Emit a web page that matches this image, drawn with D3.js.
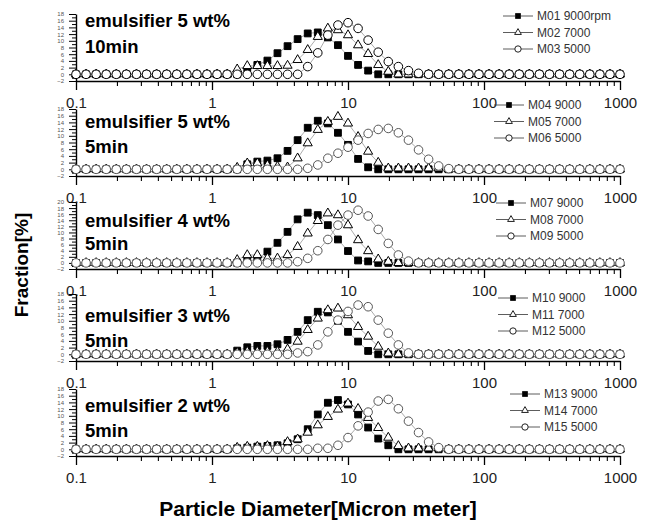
<!DOCTYPE html>
<html>
<head>
<meta charset="utf-8">
<script src="https://cdn.jsdelivr.net/npm/d3@7"></script>
<style>
  body { margin: 0; background: #fff; }
  svg { display: block; font-family: "Liberation Sans", Arial, sans-serif; }
</style>
</head>
<body>
<svg width="651" height="523"></svg>
<script>
// particle diameter classes (micron), shared by every panel
var diameters = [
  0.1, 0.1186, 0.1406, 0.1668, 0.1978, 0.2346, 0.2783, 0.33, 0.3914, 0.4642, 0.5505,
  0.6529, 0.7743, 0.9182, 1.089, 1.292, 1.532, 1.817, 2.154, 2.555, 3.03, 3.594,
  4.262, 5.055, 5.995, 7.11, 8.434, 10, 11.86, 14.06, 16.68, 19.78, 23.46,
  27.83, 33.0, 39.14, 46.42, 55.05, 65.29, 77.43, 91.82, 108.9, 129.2, 153.2,
  181.7, 215.4, 255.5, 303.0, 359.4, 426.2, 505.5, 599.5, 711.0, 843.4, 1000
];

// fraction [%] per class, one array per sample
var m01 = [0,0,0,0,0,0,0,0,0,0,0, 0,0,0,0,0,0,1.0,2.8,4.1,6.3,8.4, 10.5,12.2,12.5,11.0,8.7,5.5,2.8,1.1,0,0,0, 0,0,0,0,0,0,0,0,0,0,0, 0,0,0,0,0,0,0,0,0,0,0];
var m02 = [0,0,0,0,0,0,0,0,0,0,0, 0,0,0,0,0,1.5,2.5,2.5,2.5,2.5,2.6, 4.3,7.3,11.2,13.7,13.2,11.7,8.7,6.1,2.8,0.8,0, 0,0,0,0,0,0,0,0,0,0,0, 0,0,0,0,0,0,0,0,0,0,0];
var m03 = [0,0,0,0,0,0,0,0,0,0,0, 0,0,0,0,0,0,0,0,0,0,0, 0,2.3,6.4,11.7,14.7,15.4,13.7,10.2,6.6,3.8,2.3, 1.1,0.3,0,0,0,0,0,0,0,0,0, 0,0,0,0,0,0,0,0,0,0,0];

var m04 = [0,0,0,0,0,0,0,0,0,0,0, 0,0,0,0,0,0,1.5,2.3,2.6,3.3,5.5, 8.7,12.4,14.5,13.7,10.9,7.3,3.1,0.6,0,0,0, 0,0,0,0,0,0,0,0,0,0,0, 0,0,0,0,0,0,0,0,0,0,0];
var m05 = [0,0,0,0,0,0,0,0,0,0,0, 0,0,0,0,0,0.5,1.8,1.8,1.2,0.8,0.6, 3.3,7.8,11.8,14.2,15.7,13.7,9.7,5.3,2.0,0.3,0.3, 0.3,0.3,0.3,0.3,0,0,0,0,0,0,0, 0,0,0,0,0,0,0,0,0,0,0];
var m06 = [0,0,0,0,0,0,0,0,0,0,0, 0,0,0,0,0,0,0,0,0,0,0, 0,0.3,1.3,3.3,4.8,6.6,8.7,10.7,11.9,12.2,10.9, 8.7,5.8,3.0,1.0,0.2,0,0,0,0,0,0, 0,0,0,0,0,0,0,0,0,0,0];

var m07 = [0,0,0,0,0,0,0,0,0,0,0, 0,0,0,0,0,0,0.5,1.2,3.7,6.6,10.2, 14.3,16.5,15.7,12.4,7.7,3.9,0.8,0.5,0,0,0, 0,0,0,0,0,0,0,0,0,0,0, 0,0,0,0,0,0,0,0,0,0,0];
var m08 = [0,0,0,0,0,0,0,0,0,0,0, 0,0,0,0,0,1.0,2.6,2.6,1.5,1.5,2.6, 5.3,9.7,13.8,16.3,15.7,12.4,7.5,3.9,1.2,0.4,0, 0,0,0,0,0,0,0,0,0,0,0, 0,0,0,0,0,0,0,0,0,0,0];
var m09 = [0,0,0,0,0,0,0,0,0,0,0, 0,0,0,0,0,0,0,0,0,0,0, 0.4,1.5,4.0,7.7,12.4,15.7,17.3,15.4,11.0,6.4,2.6, 0.6,0,0,0,0,0,0,0,0,0,0, 0,0,0,0,0,0,0,0,0,0,0];

var m10 = [0,0,0,0,0,0,0,0,0,0,0, 0,0,0,0,0,1.1,2.1,2.5,2.5,3.0,4.3, 6.7,10.2,12.7,12.5,10.0,6.7,3.8,1.0,0,0,0, 0,0,0,0,0,0,0,0,0,0,0, 0,0,0,0,0,0,0,0,0,0,0];
var m11 = [0,0,0,0,0,0,0,0,0,0,0, 0,0,0,0,0,0.5,0.8,0.8,0.8,0.8,1.5, 3.8,7.3,10.7,13.2,13.7,11.7,8.2,5.3,2.3,0.3,0, 0,0,0,0,0,0,0,0,0,0,0, 0,0,0,0,0,0,0,0,0,0,0];
var m12 = [0,0,0,0,0,0,0,0,0,0,0, 0,0,0,0,0,0,0,0,0,0,0, 0.4,0.8,2.8,6.7,10.2,12.8,14.7,14.2,10.2,6.3,2.8, 0.4,0,0,0,0,0,0,0,0,0,0, 0,0,0,0,0,0,0,0,0,0,0];

var m13 = [0,0,0,0,0,0,0,0,0,0,0, 0,0,0,0,0,0.3,0.5,0.8,1.0,1.2,1.8, 3.0,6.0,10.4,13.9,14.7,13.4,10.4,6.5,3.2,1.2,0, 0,0,0,0,0,0,0,0,0,0,0, 0,0,0,0,0,0,0,0,0,0,0];
var m14 = [0,0,0,0,0,0,0,0,0,0,0, 0,0,0,0,0,0.5,0.8,0.8,1.0,0.8,2.2, 3.0,5.0,7.2,9.7,11.9,13.7,12.1,9.4,6.4,3.5,1.0, 0.3,0.3,0.3,0.3,0,0,0,0,0,0,0, 0,0,0,0,0,0,0,0,0,0,0];
var m15 = [0,0,0,0,0,0,0,0,0,0,0, 0,0,0,0,0,0,0,0,0,0,0, 0,0,0.3,0.3,1.2,3.5,7.0,11.1,14.4,14.9,12.1, 8.4,5.0,2.2,0.5,0,0,0,0,0,0,0, 0,0,0,0,0,0,0,0,0,0,0];

var panelTitles = [
  ["emulsifier 5 wt%", "10min"],
  ["emulsifier 5 wt%", "5min"],
  ["emulsifier 4 wt%", "5min"],
  ["emulsifier 3 wt%", "5min"],
  ["emulsifier 2 wt%", "5min"]
];
var legendNames = [
  ["M01 9000rpm", "M02 7000", "M03 5000"],
  ["M04 9000", "M05 7000", "M06 5000"],
  ["M07 9000", "M08 7000", "M09 5000"],
  ["M10 9000", "M11 7000", "M12 5000"],
  ["M13 9000", "M14 7000", "M15 5000"]
];
var yMaxes = [18, 18, 20, 18, 18];
var xTickValues = [0.1, 1, 10, 100, 1000];
var xTickLabels = ["0.1", "1", "10", "100", "1000"];

// layout of each panel (pixels)
var axisYs = [81, 176, 269, 361, 456];
var titleYs = [[27, 53], [128, 153], [227, 250], [322, 347], [412, 437]];
var legendPos = [[503, 16], [494, 105], [496, 203], [498, 298], [510, 394]];
var panelH = 67;

var svg = d3.select("svg");
var x = d3.scaleLog().domain([0.1, 1000]).range([76, 620]);

var seriesByPanel = [[m01, m02, m03], [m04, m05, m06], [m07, m08, m09], [m10, m11, m12], [m13, m14, m15]];

for (var k = 0; k < 5; k++) {
  drawPanel(k);
}

/**
 * marker style for series s (0 = filled square, 1 = open triangle, 2 = open circle)
 */
function markerStyle(s, k) {
  if (s === 0) return { type: d3.symbolSquare, size: 46, fill: "#000", stroke: "#000" };
  if (s === 1) return { type: d3.symbolTriangle, size: 36, fill: "#fff", stroke: "#000" };
  return { type: d3.symbolCircle, size: 58, fill: "#fff", stroke: k === 0 ? "#000" : "#555" };
}

function drawPanel(k) {
  var base = axisYs[k];
  var y = d3.scaleLinear().domain([-2, yMaxes[k]]).range([base, base - panelH]);
  var g = svg.append("g");

  // x axis: decades with labels, minor ticks between
  var xAxis = g.append("g")
    .attr("transform", "translate(0," + base + ")")
    .call(d3.axisBottom(x)
      .tickValues(xTickValues)
      .tickFormat(function(d, i) { return xTickLabels[i]; })
      .tickSize(9)
      .tickSizeOuter(0)
      .tickPadding(7));
  xAxis.select(".domain").attr("stroke-width", 1.6);
  xAxis.selectAll(".tick line").attr("stroke-width", 1.3);
  xAxis.selectAll("text").attr("font-size", 15).attr("fill", "#222")
    .attr("font-family", "'Liberation Sans', Arial, sans-serif");

  var minor = x.ticks().filter(function(d) { return xTickValues.indexOf(d) < 0; });
  g.append("g")
    .attr("transform", "translate(0," + base + ")")
    .call(d3.axisBottom(x).tickValues(minor).tickFormat("").tickSize(5).tickSizeOuter(0))
    .call(function(a) { a.select(".domain").remove(); })
    .selectAll(".tick line").attr("stroke-width", 1.1);

  // y axis with tiny labels
  var yAxis = g.append("g")
    .attr("transform", "translate(76,0)")
    .call(d3.axisLeft(y)
      .tickValues(d3.range(-2, yMaxes[k] + 1, 2))
      .tickSize(7)
      .tickSizeOuter(0)
      .tickPadding(5));
  yAxis.select(".domain").attr("stroke-width", 1.4);
  yAxis.selectAll("text").attr("font-size", 6).attr("fill", "#555");
  g.append("g")
    .attr("transform", "translate(76,0)")
    .call(d3.axisLeft(y).tickValues(d3.range(-1, yMaxes[k], 2)).tickFormat("").tickSize(4).tickSizeOuter(0))
    .call(function(a) { a.select(".domain").remove(); });

  // connecting lines
  var series = seriesByPanel[k];
  series.forEach(function(vals) {
    var line = d3.line()
      .x(function(d, i) { return x(diameters[i]); })
      .y(function(d) { return y(d); });
    g.append("path")
      .datum(vals)
      .attr("fill", "none")
      .attr("stroke", "#888")
      .attr("stroke-width", 0.7)
      .attr("d", line);
  });

  // markers
  series.forEach(function(vals, s) {
    var st = markerStyle(s, k);
    g.append("g").selectAll("path")
      .data(vals)
      .enter().append("path")
      .attr("transform", function(d, i) { return "translate(" + x(diameters[i]) + "," + y(d) + ")"; })
      .attr("d", d3.symbol().type(st.type).size(st.size))
      .attr("fill", st.fill)
      .attr("stroke", st.stroke)
      .attr("stroke-width", 1);
  });

  // panel title
  g.append("text")
    .attr("x", 85).attr("y", titleYs[k][0])
    .attr("font-size", 18.5).attr("font-weight", "bold")
    .text(panelTitles[k][0]);
  g.append("text")
    .attr("x", 85).attr("y", titleYs[k][1])
    .attr("font-size", 18.5).attr("font-weight", "bold")
    .text(panelTitles[k][1]);

  // legend
  var lx = legendPos[k][0], ly = legendPos[k][1];
  legendNames[k].forEach(function(name, s) {
    var st = markerStyle(s, k);
    var row = ly + s * 16.5;
    g.append("line")
      .attr("x1", lx).attr("x2", lx + 30)
      .attr("y1", row).attr("y2", row)
      .attr("stroke", "#333").attr("stroke-width", 0.8);
    g.append("path")
      .attr("transform", "translate(" + (lx + 15) + "," + row + ")")
      .attr("d", d3.symbol().type(st.type).size(st.size * 0.55))
      .attr("fill", st.fill).attr("stroke", "#222").attr("stroke-width", 1);
    g.append("text")
      .attr("x", lx + 34).attr("y", row)
      .attr("dy", "0.35em")
      .attr("font-size", 12).attr("fill", "#333")
      .text(name);
  });
}

// axis titles
svg.append("text")
  .attr("transform", "translate(28,265) rotate(-90)")
  .attr("text-anchor", "middle")
  .attr("font-size", 19).attr("font-weight", "bold")
  .text("Fraction[%]");

svg.append("text")
  .attr("x", 318).attr("y", 516)
  .attr("text-anchor", "middle")
  .attr("font-size", 21).attr("font-weight", "bold")
  .text("Particle Diameter[Micron meter]");
</script>
</body>
</html>
